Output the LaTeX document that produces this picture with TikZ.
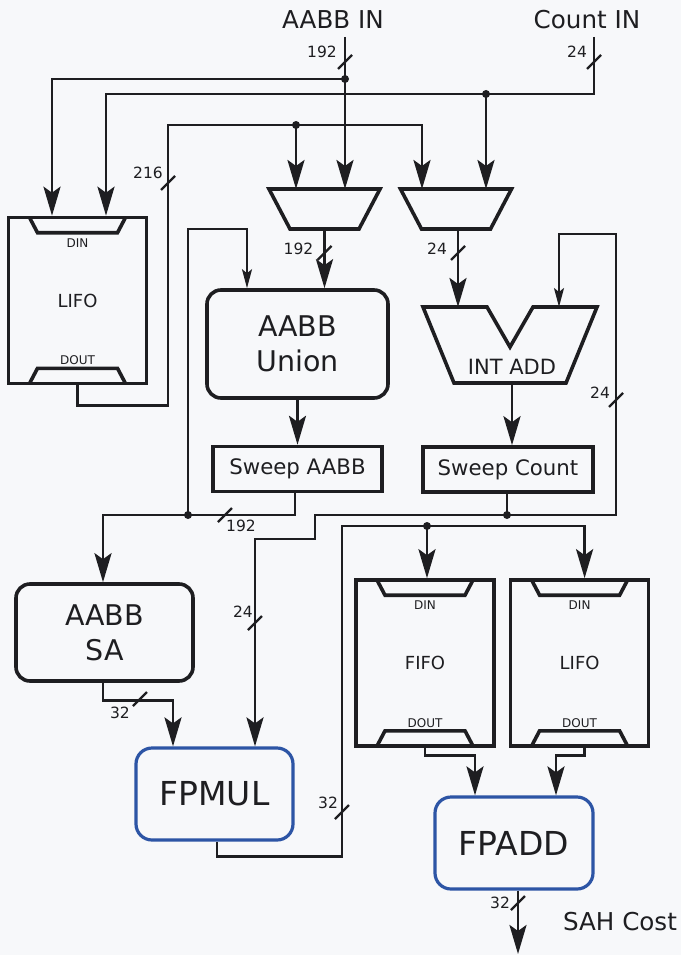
\documentclass[tikz,border=0pt]{standalone}
\usepackage{fontspec}
\setmainfont{DejaVu Sans}
\usepackage{tikz}
\usetikzlibrary{positioning, arrows.meta, calc}

\definecolor{ink}{RGB}{30,30,33}
\definecolor{fpblue}{RGB}{45,85,165}
\definecolor{paper}{RGB}{247,248,250}

% bus width mark: name, position, label offset, text
\newcommand{\buswidth}[4]{%
  \draw[busmark] ($(#2)+(-7,7)$) -- ($(#2)+(7,-7)$);
  \node[buslbl] (#1) at ($(#2)+(#3)$) {#4};
}

\begin{document}
\begin{tikzpicture}[
    x=1pt, y=-1pt,
    box/.style={
        rectangle, draw=ink, line width=3.6pt,
        text=ink, align=center
    },
    block/.style={box, rounded corners=14pt, font=\fontsize{28.5}{35}\selectfont},
    fpblock/.style={block, draw=fpblue, line width=3.2pt, rounded corners=16pt,
        font=\fontsize{33}{36}\selectfont},
    sweep/.style={box, minimum height=45pt, font=\fontsize{21.3}{24}\selectfont},
    fifo/.style={box, minimum width=138pt, minimum height=166pt,
        font=\fontsize{18}{20}\selectfont},
    hull/.style={rectangle, inner sep=0pt, outer sep=0pt},
    outline/.style={draw=ink, line width=3.6pt, line join=miter},
    port/.style={font=\fontsize{12}{14}\selectfont, text=ink},
    iolabel/.style={font=\fontsize{24.6}{28}\selectfont, text=ink},
    buslbl/.style={font=\fontsize{15.5}{18}\selectfont, text=ink},
    busmark/.style={line width=2.4pt, draw=ink},
    wire/.style={line width=2.9pt, draw=ink},
    thinwire/.style={line width=2pt, draw=ink},
    flow/.style={wire, -{Stealth[length=29pt, width=17pt, inset=6pt]}},
    thinflow/.style={thinwire, -{Stealth[length=19pt, width=10pt, inset=4pt]}},
    dot/.style={circle, fill=ink, inner sep=0pt, minimum size=8pt}
]
\useasboundingbox[fill=paper] (0,0) rectangle (681,955);

% === Inputs ===
\node[iolabel] (aabbin) at (333,20) {AABB IN};
\node[iolabel] (cntin) at (587,20) {Count IN};
\coordinate (aabbsrc) at (345,37);
\coordinate (cntsrc) at (594,37);

% === Stack / queues ===
\node[fifo] (lifoA) at (77.5,300.5) {LIFO};
\node[fifo] (fifo) at (425,663) {FIFO};
\node[fifo, right=13pt of fifo] (lifoB) {LIFO};

\foreach \f in {lifoA, fifo, lifoB} {
    \draw[outline] ([xshift=-48pt,yshift=-1.8pt]\f.north) -- ([xshift=-40pt,yshift=-17pt]\f.north)
        -- ([xshift=40pt,yshift=-17pt]\f.north) -- ([xshift=48pt,yshift=-1.8pt]\f.north);
    \draw[outline] ([xshift=-48pt,yshift=1.8pt]\f.south) -- ([xshift=-40pt,yshift=17pt]\f.south)
        -- ([xshift=40pt,yshift=17pt]\f.south) -- ([xshift=48pt,yshift=1.8pt]\f.south);
    \node[port] (\f-din) at ([yshift=-27pt]\f.north) {DIN};
    \node[port] (\f-dout) at ([yshift=25pt]\f.south) {DOUT};
}

% === Muxes ===
\node[hull, minimum width=111pt, minimum height=40pt] (muxA) at (324.5,209) {};
\node[hull, minimum width=111pt, minimum height=40pt] (muxB) at (456,209) {};
\foreach \m in {muxA, muxB}
    \draw[outline] (\m.north west) -- (\m.north east) -- ([xshift=-21pt]\m.south east)
        -- ([xshift=21pt]\m.south west) -- cycle;

% === Processing blocks ===
\node[block, minimum width=181pt, minimum height=108pt] (union) at (297.5,344) {AABB\\Union};
\node[sweep, minimum width=169pt, below=45pt of union] (sweepaabb) {Sweep AABB};

\node[hull, minimum width=174pt, minimum height=76pt] (intadd) at (510,345) {};
\draw[outline] (intadd.north west) -- ([xshift=64pt]intadd.north west) -- ([yshift=-40pt]intadd.north)
    -- ([xshift=-64pt]intadd.north east) -- (intadd.north east) -- ([xshift=-31pt]intadd.south east)
    -- ([xshift=31pt]intadd.south west) -- cycle;
\node[text=ink, font=\fontsize{21}{24}\selectfont] (intaddlbl) at ($(intadd.south)+(2,-16)$) {INT ADD};
\node[sweep, minimum width=170pt] (sweepcnt) at (508,469.5) {Sweep Count};

\node[block, minimum width=177pt, minimum height=97pt] (aabbsa) at (104.5,632.5) {AABB\\SA};
\node[fpblock, minimum width=157pt, minimum height=92pt] (fpmul) at (214.5,794) {FPMUL};
\node[fpblock, minimum width=158pt, minimum height=92pt] (fpadd) at (514,843) {FPADD};
\node[iolabel] (sah) at (620,922) {SAH Cost};
\coordinate (sahout) at (518,954);

% === Junctions ===
\coordinate (tapA) at (345,79);
\coordinate (tapC) at (486,94);
\coordinate (tapL) at (296,125);
\coordinate (tapS) at (188,515);
\coordinate (tapN) at (507,515);
\coordinate (tapM) at (427,526);

% === Input buses ===
\draw[flow] (aabbsrc) -- (tapA) -- (tapA |- muxA.north);
\draw[flow] (tapA) -| ([xshift=-25.5pt]lifoA.north);
\draw[flow] (cntsrc) |- (tapC) -| ([xshift=28.5pt]lifoA.north);
\draw[flow] (tapC) -- (tapC |- muxB.north);
\buswidth{wAin}{345,62}{-23,-10}{192}
\buswidth{wCin}{594,62}{-17,-10}{24}

% LIFO feedback
\draw[flow] (lifoA.south) -- ++(0,20) -| (168,125) -| ([xshift=-34pt]muxB.north);
\draw[flow] (tapL) -- (tapL |- muxA.north);
\buswidth{wfb}{168,183}{-20,-10}{216}

% === AABB path ===
\draw[flow] (muxA.south) -- (muxA.south |- union.north);
\buswidth{wmA}{324.5,253}{-26,-4}{192}
\draw[flow] (union.south) -- (union.south |- sweepaabb.north);
\draw[flow] ([xshift=-2.5pt]sweepaabb.south) |- (tapS) -| ([xshift=-1.5pt]aabbsa.north);
\buswidth{wsA}{225,515}{16,11}{192}
\draw[thinflow] (tapS) -- (tapS |- muxA.south) -| ([xshift=-50.5pt]union.north);

% === Count path ===
\draw[flow] ([xshift=2pt]muxB.south) -- ([xshift=2pt]muxB.south |- intadd.north);
\buswidth{wmB}{458,253}{-21,-4}{24}
\draw[flow] ([xshift=2pt]intadd.south) -- ([xshift=2pt]intadd.south |- sweepcnt.north);
\draw[wire] ([xshift=-1pt]sweepcnt.south) -- (tapN);
\draw[thinflow] (tapN) -| (616,234) -| ([xshift=49pt]intadd.north);
\buswidth{wcR}{616,400}{-16,-7}{24}
\draw[flow] (tapN) -| (315,539) -| ([xshift=40.5pt]fpmul.north);
\buswidth{wcL}{255,623}{-12,-11}{24}

% === Cost ===
\draw[flow] ([xshift=-1.5pt]aabbsa.south) -- ++(0,18) -| ([xshift=-41.5pt]fpmul.north);
\buswidth{wsa}{140,699}{-20,14}{32}
\draw[flow] ([xshift=2.5pt]fpmul.south) -- ++(0,15) -| (342,526) -| ([xshift=5pt]lifoB.north);
\draw[flow] (tapM) -- (tapM |- fifo.north);
\buswidth{wmul}{342,812}{-14,-9}{32}
\draw[flow] (fifo.south) -- ++(0,8) -| ([xshift=-39pt]fpadd.north);
\draw[flow] ([xshift=5pt]lifoB.south) -- ++(0,8) -| ([xshift=42pt]fpadd.north);
\draw[flow] ([xshift=4pt]fpadd.south) -- (sahout);
\buswidth{wout}{518,903}{-18,0}{32}

\foreach \t in {tapA, tapC, tapL, tapS, tapN, tapM}
    \node[dot] (\t-dot) at (\t) {};

\end{tikzpicture}
\end{document}
